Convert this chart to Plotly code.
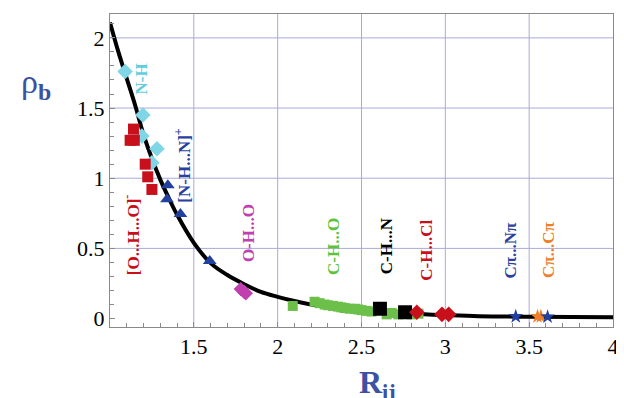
import plotly.graph_objects as go

# fitted curve
curve_x = [1.00, 1.05, 1.10, 1.15, 1.20, 1.25, 1.30, 1.35, 1.40, 1.50, 1.60, 1.70, 1.80, 1.90, 2.00, 2.10, 2.20, 2.40, 2.60, 2.80, 3.00, 3.20, 3.50, 4.00]
curve_y = [2.11, 1.90, 1.71, 1.52, 1.31, 1.14, 0.99, 0.86, 0.74, 0.54, 0.395, 0.31, 0.245, 0.19, 0.155, 0.125, 0.10, 0.07, 0.05, 0.035, 0.025, 0.017, 0.013, 0.01]

nh_x = [1.09, 1.196, 1.19, 1.28, 1.25]
nh_y = [1.76, 1.45, 1.30, 1.21, 1.11]

oho_x = [1.14, 1.12, 1.145, 1.21, 1.225, 1.25]
oho_y = [1.35, 1.27, 1.27, 1.10, 1.01, 0.92]

nhn_x = [1.345, 1.34, 1.42, 1.595]
nhn_y = [0.95, 0.85, 0.745, 0.41]

ohO_x = [1.78, 1.80, 1.81]
ohO_y = [0.21, 0.19, 0.18]

cho_x = [2.09, 2.22, 2.25, 2.28, 2.30, 2.33, 2.36, 2.38, 2.40, 2.43, 2.46, 2.48, 2.50, 2.53, 2.56, 2.65, 2.68, 2.72, 2.80, 2.84]
cho_y = [0.09, 0.12, 0.11, 0.10, 0.095, 0.09, 0.085, 0.08, 0.075, 0.07, 0.07, 0.065, 0.06, 0.055, 0.05, 0.03, 0.04, 0.03, 0.03, 0.035]

chn_x = [2.61, 2.76]
chn_y = [0.07, 0.045]

chcl_x = [2.83, 2.98, 3.02]
chcl_y = [0.045, 0.03, 0.03]

cpnp_x = [3.42, 3.61]
cpnp_y = [0.015, 0.012]

cpcp_x = [3.55, 3.57]
cpcp_y = [0.015, 0.015]

label_text = ["N-H", "[N-H...N]<sup>+</sup>", "[O...H...O]<sup>-</sup>", "O-H...O", "C-H...O", "C-H...N", "C-H...Cl", "Cπ...Nπ", "Cπ...Cπ"]
label_x = [1.19, 1.43, 1.13, 1.83, 2.33, 2.65, 2.89, 3.39, 3.62]
label_y = [1.71, 1.09, 0.60, 0.61, 0.51, 0.52, 0.49, 0.49, 0.49]
label_color = ["#62cde0", "#2a3f9e", "#c8101c", "#c040b0", "#5ec23c", "#000000", "#c8101c", "#2a3f9e", "#ee7f2a"]

x_ticks = [1.5, 2, 2.5, 3, 3.5, 4]
y_ticks = [0, 0.5, 1, 1.5, 2]
x_grid = [1.5, 2, 2.5, 3, 3.5]
y_grid = [0.5, 1, 1.5, 2]

fig = go.Figure()
fig.add_trace(go.Scatter(x=curve_x, y=curve_y, mode="lines", line=dict(color="black", width=4, shape="spline")))

def mk(x, y, sym, color, size):
    fig.add_trace(go.Scatter(x=x, y=y, mode="markers",
                             marker=dict(symbol=sym, color=color, size=size, line=dict(width=0))))

mk(nh_x, nh_y, "diamond", "#7fd6e6", 12)
mk(oho_x, oho_y, "square", "#c8101c", 11)
mk(nhn_x, nhn_y, "triangle-up", "#22409e", 12)
mk(ohO_x, ohO_y, "diamond", "#c040b0", 11)
mk(cho_x, cho_y, "square", "#6cc04a", 10)
mk(chn_x, chn_y, "square", "#000000", 14)
mk(chcl_x, chcl_y, "diamond", "#c8101c", 12)
mk(cpcp_x, cpcp_y, "star", "#ee7f2a", 11)
mk(cpnp_x, cpnp_y, "star", "#22409e", 11)

shapes = []
for gx in x_grid:
    shapes.append(dict(type="line", xref="x", yref="paper", x0=gx, x1=gx, y0=0, y1=1,
                       line=dict(color="#a9a9dc", width=1), layer="below"))
for gy in y_grid:
    shapes.append(dict(type="line", xref="paper", yref="y", x0=0, x1=1, y0=gy, y1=gy,
                       line=dict(color="#a9a9dc", width=1), layer="below"))

annotations = []
for t, x, y, c in zip(label_text, label_x, label_y, label_color):
    annotations.append(dict(x=x, y=y, xref="x", yref="y", text="<b>" + t + "</b>", showarrow=False, textangle=-90,
                            font=dict(family="Liberation Serif", size=17, color=c)))
annotations.append(dict(x=-0.18, y=0.85, xref="paper", yref="paper", text="ρ<sub><b>b</b></sub>",
                        showarrow=False, font=dict(family="Liberation Serif", size=34, color="#3b52a4")))
annotations.append(dict(x=0.531, y=-0.185, xref="paper", yref="paper", text="<b>R<sub>ij</sub></b>",
                        showarrow=False, yanchor="middle",
                        font=dict(family="Liberation Serif", size=32, color="#3b52a4")))

axis_common = dict(showline=True, mirror=True, linecolor="#8a8a8a", linewidth=1, showgrid=False,
                   zeroline=False, ticks="inside", ticklen=5, tickcolor="#8a8a8a",
                   tickfont=dict(family="Liberation Serif", size=22, color="black"))

# page body has an 8px margin, so the figure is sized to fit the 624x398 window
fig.update_layout(
    width=616, height=390, plot_bgcolor="white", paper_bgcolor="white",
    margin=dict(l=102, r=9, t=5, b=71),
    showlegend=False,
    shapes=shapes, annotations=annotations,
    xaxis=dict(range=[1.0, 4.0], tickvals=x_ticks, ticktext=[str(v) for v in x_ticks],
               minor=dict(dtick=0.1, ticks="inside", ticklen=4, tickcolor="#8a8a8a"), **axis_common),
    yaxis=dict(range=[-0.06, 2.17], tickvals=y_ticks, ticktext=[str(v) for v in y_ticks],
               minor=dict(dtick=0.1, ticks="inside", ticklen=4, tickcolor="#8a8a8a"), **axis_common),
)
fig.write_html("out.html")
